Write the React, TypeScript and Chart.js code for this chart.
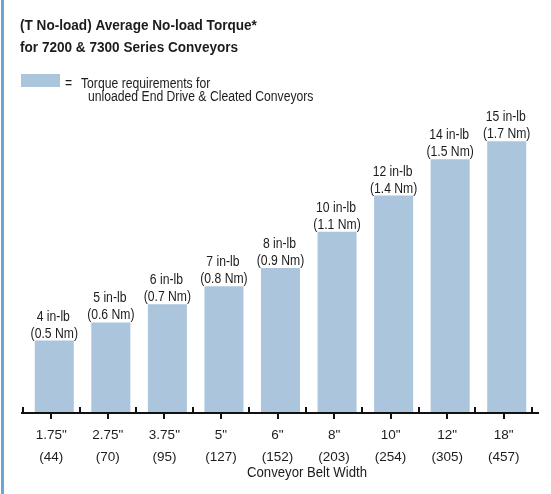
import React, { useEffect, useRef } from "react";
import { Chart, registerables } from "chart.js";

Chart.register(...registerables);

// ---- data ----
const categories = ['1.75"', '2.75"', '3.75"', '5"', '6"', '8"', '10"', '12"', '18"'];
const metricWidths = ["(44)", "(70)", "(95)", "(127)", "(152)", "(203)", "(254)", "(305)", "(457)"];
const torqueInLb = [4, 5, 6, 7, 8, 10, 12, 14, 15];
const torqueNm = ["0.5", "0.6", "0.7", "0.8", "0.9", "1.1", "1.4", "1.5", "1.7"];
const titleLines = ["(T No-load) Average No-load Torque*", "for 7200 & 7300 Series Conveyors"];
const legendLines = ["Torque requirements for", "unloaded End Drive & Cleated Conveyors"];
const axisTitle = "Conveyor Belt Width";

const SANS = "'Liberation Sans', Arial, Helvetica, sans-serif";
const TEXT = "#1c1c1c";
const BAR = "#abc5dc";
const LABEL_SHIFT = -3;
const NARROW_X = 0.87;

function drawText(ctx: CanvasRenderingContext2D, text: string, x: number, y: number, sx: number, align: CanvasTextAlign) {
  ctx.save();
  ctx.translate(x, y);
  ctx.scale(sx, 1);
  ctx.textAlign = align;
  ctx.fillText(text, 0, 0);
  ctx.restore();
}

const decor = {
  id: "decor",
  afterDatasetsDraw(chart: any) {
    const { ctx, scales } = chart;
    const x = scales.x;
    const y = scales.y;
    ctx.save();
    // left frame line
    ctx.fillStyle = "#6aa5d5";
    ctx.fillRect(1, 0, 3, chart.height);

    // title
    ctx.fillStyle = TEXT;
    ctx.textBaseline = "alphabetic";
    ctx.font = `bold 14px ${SANS}`;
    drawText(ctx, titleLines[0], 20, 30, 0.97, "left");
    drawText(ctx, titleLines[1], 20, 52, 0.97, "left");

    // legend
    ctx.fillStyle = BAR;
    ctx.fillRect(21, 74, 39, 13);
    ctx.fillStyle = TEXT;
    ctx.font = `14px ${SANS}`;
    drawText(ctx, "=", 65, 88, NARROW_X, "left");
    drawText(ctx, legendLines[0], 81, 88, NARROW_X, "left");
    drawText(ctx, legendLines[1], 88, 101, NARROW_X, "left");

    // value labels
    const meta = chart.getDatasetMeta(0);
    meta.data.forEach((bar: any, i: number) => {
      drawText(ctx, `${torqueInLb[i]} in-lb`, bar.x - 1, bar.y - 20, NARROW_X, "center");
      drawText(ctx, `(${torqueNm[i]} Nm)`, bar.x, bar.y - 3, NARROW_X, "center");
    });

    // axis line with ticks
    const base = y.getPixelForValue(0);
    ctx.strokeStyle = "#111";
    ctx.lineWidth = 2;
    ctx.beginPath();
    ctx.moveTo(x.left - 5, base);
    ctx.lineTo(x.right + 4, base);
    ctx.stroke();
    const half = (x.getPixelForValue(1) - x.getPixelForValue(0)) / 2;
    ctx.beginPath();
    for (let i = 0; i <= categories.length; i++) {
      const bx = Math.round(x.getPixelForValue(i) - half + LABEL_SHIFT);
      ctx.moveTo(bx, base - 6);
      ctx.lineTo(bx, base);
    }
    for (let i = 0; i < categories.length; i++) {
      const cx = Math.round(x.getPixelForValue(i) + LABEL_SHIFT);
      ctx.moveTo(cx, base);
      ctx.lineTo(cx, base + 6);
    }
    ctx.stroke();

    // axis title
    ctx.fillStyle = TEXT;
    ctx.font = `14px ${SANS}`;
    drawText(ctx, axisTitle, 307, 477, 0.94, "center");
    ctx.restore();
  },
};

export default function App() {
  const ref = useRef<HTMLCanvasElement | null>(null);
  useEffect(() => {
    document.body.style.margin = "0";
    const canvas = ref.current;
    if (!canvas) return;
    const chart = new Chart(canvas, {
      type: "bar",
      data: {
        labels: categories,
        datasets: [
          {
            data: torqueInLb,
            backgroundColor: BAR,
            borderWidth: 0,
            barPercentage: 0.69,
            categoryPercentage: 1,
          },
        ],
      },
      options: {
        responsive: false,
        animation: false,
        devicePixelRatio: 1,
        layout: { padding: { top: 123, left: 26, right: 16, bottom: 0 } },
        plugins: { legend: { display: false }, tooltip: { enabled: false }, title: { display: false } },
        scales: {
          x: {
            grid: { display: false, drawTicks: false, tickLength: 0 },
            border: { display: false },
            ticks: {
              color: TEXT,
              padding: 11,
              labelOffset: LABEL_SHIFT,
              maxRotation: 0,
              autoSkip: false,
              font: { family: SANS, size: 13.5, lineHeight: 22 / 13.5 },
              callback: (_v: any, i: number) => [categories[i], metricWidths[i]],
            },
            afterFit: (scale: any) => {
              scale.height = 81;
            },
          },
          y: { display: false, min: 0, max: 16 },
        },
      },
      plugins: [decor],
    });
    return () => chart.destroy();
  }, []);
  return (
    <div style={{ position: "absolute", left: 0, top: 0, width: 551, height: 494, background: "#fff" }}>
      <canvas ref={ref} width={551} height={494} style={{ display: "block", width: 551, height: 494 }} />
    </div>
  );
}
